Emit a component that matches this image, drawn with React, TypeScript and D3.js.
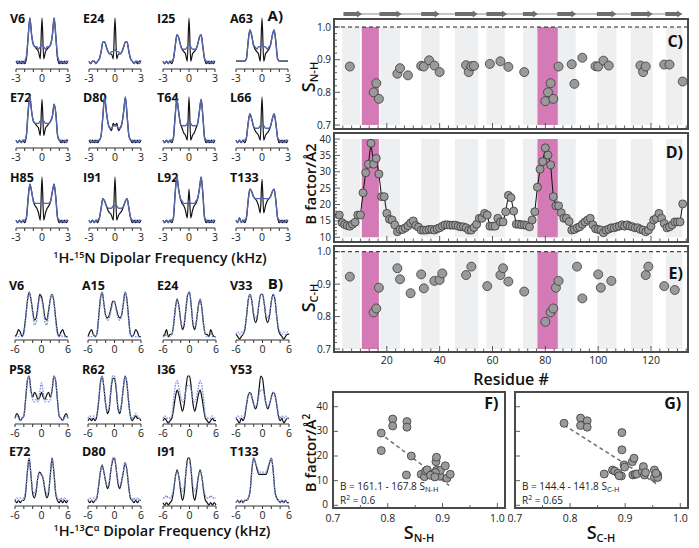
import React from "react";
import * as d3 from "d3";

const FONT = "'Open Sans', 'Liberation Sans', sans-serif";

// ---------- Panel A: 1H-15N dipolar spectra, 31 samples from -3 to 3 kHz, relative intensity (0-20)
const nhLabels = ["V6", "E24", "I25", "A63", "E72", "D80", "T64", "L66", "H85", "I91", "L92", "T133"];
const nhExp = [
  [2,1,2,1,2,1,3,12,20,13,9,8,7,6,3,20,3,6,7,8,9,13,20,12,3,1,2,1,2,1,2],
  [2,1,2,2,1,2,3,6,10,10,8,6,5,5,3,20,3,5,5,6,8,10,10,6,3,2,1,2,1,2,2],
  [2,1,2,1,2,1,3,8,13,12,9,7,6,5,2,20,2,5,6,7,9,12,13,8,3,1,2,1,2,1,2],
  [2,2,2,2,2,2,3,10,15,13,9,7,6,5,2,20,2,5,6,7,9,13,15,10,3,2,2,2,2,2,2],
  [2,1,2,1,2,1,4,14,20,14,10,9,8,7,4,19,4,7,8,9,10,12,17,13,4,2,1,2,1,2,2],
  [2,1,2,1,2,1,2,4,12,20,14,9,7,6,9,8,9,6,7,9,14,20,12,4,2,1,2,1,2,1,2],
  [2,1,2,1,2,1,3,12,19,14,9,7,5,4,2,20,2,4,5,7,9,14,19,12,3,1,2,1,2,1,2],
  [2,1,2,1,2,1,3,9,13,11,8,6,5,4,2,20,2,4,5,6,8,11,13,9,3,1,2,1,2,1,2],
  [2,1,2,1,2,1,3,11,17,14,10,8,7,5,2,20,2,5,7,8,10,14,17,11,3,1,2,1,2,1,2],
  [2,1,2,1,2,1,3,7,11,10,8,6,5,4,2,20,2,4,5,6,8,10,11,7,3,1,2,1,2,1,2],
  [2,1,2,1,2,1,3,13,20,15,11,9,8,6,3,15,3,6,8,9,11,15,20,13,3,1,2,1,2,1,2],
  [2,1,3,1,2,1,3,10,15,14,12,11,10,8,5,19,5,8,10,11,12,14,15,10,3,1,2,1,2,1,2],
];
const nhFit = [
  [2,2,1,2,1,2,4,12,20,13,9,8,8,7,8,9,8,7,8,8,9,13,20,12,4,2,1,2,1,2,2],
  [2,1,2,2,1,2,3,6,10,10,8,6,5,6,6,7,6,6,5,6,8,10,10,6,3,2,1,2,2,1,2],
  [2,1,2,1,2,2,3,8,13,12,9,7,7,7,8,9,8,7,7,7,9,12,13,8,3,2,1,2,1,2,2],
  [2,2,2,2,2,2,3,10,15,13,9,8,7,8,8,9,8,8,7,8,9,13,15,10,3,2,2,2,2,2,2],
  [2,1,2,1,2,2,4,14,20,14,10,9,9,9,10,10,10,9,9,9,10,12,17,13,4,2,2,1,2,1,2],
  [2,2,1,2,1,2,2,4,12,20,14,9,7,7,8,8,8,7,7,9,14,20,12,4,2,2,1,2,1,2,2],
  [2,1,2,1,2,2,3,12,19,14,9,8,8,8,9,10,9,8,8,8,9,14,19,12,3,2,1,2,1,2,2],
  [2,1,2,1,2,2,3,9,13,11,8,7,7,7,8,8,8,7,7,7,8,11,13,9,3,2,1,2,1,2,2],
  [2,1,2,1,2,2,3,11,17,14,10,9,9,9,9,10,9,9,9,9,10,14,17,11,3,2,1,2,1,2,2],
  [2,1,2,1,2,2,3,7,11,10,8,7,7,7,8,8,8,7,7,7,8,10,11,7,3,2,1,2,1,2,2],
  [2,1,2,1,2,2,3,13,20,15,11,10,9,9,9,10,9,9,9,10,11,15,20,13,3,2,1,2,1,2,2],
  [2,1,3,1,2,2,3,10,15,14,12,11,11,11,11,11,11,11,11,11,12,14,15,10,3,2,1,2,1,2,2],
];
const nhTicks = [-3, -2, -1, 0, 1, 2, 3];
const nhTickLabels = [-3, 0, 3];

// ---------- Panel B: 1H-13Ca dipolar spectra, 31 samples from -6 to 6 kHz
const chLabels = ["V6", "A15", "E24", "V33", "P58", "R62", "I36", "Y53", "E72", "D80", "I91", "T133"];
const chExp = [
  [1,2,4,3,1,3,9,16,20,17,12,8,9,14,19,18,14,9,8,12,17,19,16,9,3,1,3,4,2,1,1],
  [1,3,4,2,1,2,9,17,20,15,10,9,10,13,16,16,13,10,9,10,15,20,17,9,2,1,2,4,3,1,1],
  [1,2,4,1,2,2,6,13,17,14,8,4,6,13,19,20,14,6,4,8,14,17,13,6,2,2,1,4,2,1,1],
  [2,1,0,1,2,4,10,17,19,16,10,7,9,15,19,19,15,9,7,10,16,19,17,10,4,2,1,0,1,2,2],
  [2,4,3,1,2,3,10,18,20,14,11,13,12,10,11,13,11,10,12,13,11,14,20,18,10,3,2,1,3,4,2],
  [1,2,1,2,1,3,9,17,20,15,8,4,6,14,19,19,14,6,4,8,15,20,17,9,3,1,2,3,2,2,1],
  [1,2,1,0,1,2,6,11,14,12,8,5,8,15,20,20,15,8,5,8,12,14,11,6,2,1,0,1,2,1,1],
  [2,1,0,2,1,3,8,12,13,11,8,6,8,14,20,19,13,8,6,8,11,13,12,8,3,1,2,0,1,2,2],
  [2,1,2,1,2,2,5,14,20,13,5,3,6,12,14,13,11,6,3,5,13,20,14,5,2,1,2,1,2,1,2],
  [2,1,2,1,2,3,8,14,17,14,10,7,9,15,19,20,15,9,7,10,14,18,15,8,3,2,1,2,1,2,2],
  [1,0,1,0,1,2,6,12,15,12,6,2,5,14,20,20,14,5,2,6,12,15,12,6,2,1,0,1,0,1,0],
  [1,2,1,2,1,2,2,3,6,15,20,18,15,13,13,13,13,13,15,18,20,15,6,3,2,1,2,1,2,1,1],
];
const chFit = [
  [1,1,1,2,1,2,8,16,20,17,11,6,7,13,18,17,13,7,6,11,17,19,16,8,2,1,2,1,1,1,1],
  [1,1,1,2,1,2,8,17,20,15,10,8,9,12,15,16,12,9,8,10,15,20,17,8,2,1,2,1,1,1,1],
  [1,1,2,1,1,2,6,13,17,14,8,5,7,13,19,20,14,7,5,8,14,17,13,6,2,1,1,2,1,1,1],
  [2,3,2,3,2,5,10,17,19,16,11,9,10,15,19,19,15,10,9,11,16,19,17,10,5,3,2,3,2,3,2],
  [2,3,2,1,2,3,10,18,20,14,10,9,10,9,13,17,13,9,10,9,10,14,20,18,10,3,2,1,2,3,2],
  [2,3,2,3,2,3,9,17,20,15,8,5,7,15,20,20,15,7,5,8,15,20,17,9,3,2,3,4,3,2,2],
  [2,3,2,2,2,3,10,16,18,15,11,9,10,14,16,16,14,10,9,11,15,18,16,10,3,2,2,2,3,2,2],
  [2,3,2,3,2,4,8,12,13,11,8,7,8,12,14,14,12,8,7,8,11,13,12,8,4,2,3,2,3,2,2],
  [2,3,2,3,2,3,6,14,20,13,6,5,7,12,13,13,11,7,5,6,13,20,14,6,3,2,3,2,3,2,2],
  [2,3,2,3,2,3,8,14,17,14,10,8,10,15,20,20,15,10,8,10,14,18,15,8,3,2,3,2,3,2,2],
  [3,3,4,3,3,4,7,12,14,12,8,6,8,14,18,18,14,8,6,8,12,14,12,7,4,3,3,4,3,3,3],
  [1,2,1,2,1,2,2,3,6,15,20,18,16,14,14,14,14,14,16,18,20,15,6,3,2,1,2,1,2,1,1],
];
const chTicks = [-6, -4, -2, 0, 2, 4, 6];
const chTickLabels = [-6, 0, 6];

// ---------- Secondary structure / highlighted regions (residue numbers)
const strands = [[3.6,10.6],[17.2,25.6],[33,40],[45.8,54.4],[57.7,65.5],[71.5,77.2],[84.5,91.7],[99.5,106.9],[112.4,120.6],[125.4,131.8]];
const greyBands = [[3.1,9.9],[17.5,25],[33,40],[45.8,54.6],[57.7,64.6],[71.5,77],[84.5,91.5],[99.7,106.9],[112.4,120.6],[125.6,131.9]];
const pinkBands = [[10.5,17],[77,84.7]];

// ---------- Panel C: S(N-H) order parameters
const cRes = [6,15,16,17,24,25,28,33,34,36,38,40,50,51,52,53,59,63,66,72,80,81,82,83,85,90,91,94,99,100,102,104,116,117,118,125,127,132];
const cVal = [0.879,0.800,0.828,0.780,0.857,0.874,0.852,0.881,0.879,0.898,0.882,0.862,0.883,0.862,0.880,0.881,0.887,0.895,0.878,0.862,0.773,0.800,0.828,0.780,0.879,0.886,0.826,0.906,0.880,0.879,0.897,0.882,0.882,0.862,0.879,0.885,0.885,0.833];

// ---------- Panel D: B factor per residue (residues 2..132)
const dStart = 2;
const dVal = [16.8,14.5,13.9,13.6,13.4,14.0,14.6,16.8,16.8,23.6,29.7,32.3,38.7,32.3,34.1,29.3,22.4,22.4,17.3,15.5,15.3,13.8,11.7,12.4,12.4,12.9,13.5,14.4,15.0,13.6,13.1,12.2,12.2,12.2,12.4,12.4,12.2,12.6,12.9,13.4,13.8,13.8,13.7,13.7,13.7,13.4,13.2,13.2,12.9,12.2,12.2,13.0,14.0,15.8,15.8,17.3,16.8,13.4,13.4,13.4,15.8,14.7,14.7,17.8,22.8,22.1,18.0,14.0,14.0,13.8,13.8,13.6,13.2,15.3,17.8,25.3,30.8,33.1,37.3,35.1,32.1,22.4,19.6,19.6,17.5,15.8,15.8,14.8,12.2,12.4,12.9,13.2,14.0,14.7,15.3,15.8,13.8,12.6,12.4,12.2,11.4,12.2,12.5,12.9,12.9,13.2,13.4,13.8,13.4,13.8,13.4,13.2,12.9,12.9,12.4,12.2,11.7,12.2,13.4,15.3,15.8,17.3,15.8,14.2,12.9,13.2,13.8,14.7,14.7,14.7,20.2];

// ---------- Panel E: S(C-H) order parameters
const eRes = [6,15,16,17,24,25,29,33,34,38,40,41,50,52,58,63,64,66,72,80,82,83,84,85,92,94,100,101,105,118,119,125,129];
const eVal = [0.923,0.813,0.825,0.889,0.949,0.915,0.872,0.930,0.887,0.910,0.913,0.933,0.928,0.954,0.894,0.928,0.949,0.908,0.877,0.784,0.813,0.825,0.889,0.910,0.954,0.856,0.930,0.889,0.910,0.928,0.954,0.894,0.882];

// ---------- Panels F, G: correlations with B factor
const fS = [0.788,0.788,0.809,0.809,0.835,0.835,0.834,0.843,0.861,0.867,0.869,0.872,0.881,0.888,0.889,0.889,0.892,0.895,0.896,0.905,0.908,0.914,0.885,0.883,0.887,0.878,0.886];
const fB = [29.3,22.2,35,32.2,34,31.7,12.3,20,12.6,11.6,13.9,14.4,12.6,17.7,19.5,14.2,12.3,11.8,14.2,16,11,12.6,11.8,12.8,13.3,12.2,11.5];
const fFit = { a: 161.1, b: 167.8, from: 0.785, to: 0.912 };
const gS = [0.789,0.819,0.819,0.831,0.831,0.862,0.877,0.881,0.887,0.893,0.894,0.894,0.898,0.899,0.913,0.916,0.914,0.918,0.921,0.931,0.933,0.935,0.937,0.953,0.953,0.959,0.959,0.956,0.889];
const gB = [33.3,35.4,32.4,34.3,31.7,12.7,14.3,13.9,13,11.9,29.5,22.5,16.4,15.5,17.7,19.1,12.3,12.6,12.7,13.7,15.7,12.3,13.3,14.3,11.3,12.3,11.3,13,12];
const gFit = { a: 144.4, b: 141.8, from: 0.789, to: 0.96 };

const resTicks = [20, 40, 60, 80, 100, 120];

function Spectrum(props: any) {
  const { x0, w, axisY, top, base, dom, exp, fit, label, labelY, ticks, tickLabels, fitDash, fitColor, fitWidth } = props;
  const n = exp.length;
  const grid = d3.range(n).map((i) => dom[0] + ((dom[1] - dom[0]) * i) / (n - 1));
  const x = d3.scaleLinear().domain(dom).range([x0, x0 + w]);
  const y = d3.scaleLinear().domain([0, 20]).range([base, top]);
  const line = d3
    .line<number>()
    .x((_, i) => x(grid[i]))
    .y((d) => y(d))
    .curve(d3.curveMonotoneX);
  return (
    <g>
      <text x={x0 - 6} y={labelY} fontSize={12.5} fontWeight={700} fill="#111">{label}</text>
      <path d={line(exp) || ""} fill="none" stroke="#111" strokeWidth={1.2} />
      <path d={line(fit) || ""} fill="none" stroke={fitColor} strokeWidth={fitWidth} strokeDasharray={fitDash} />
      <line x1={x0} x2={x0 + w} y1={axisY} y2={axisY} stroke="#333" strokeWidth={1} />
      {ticks.map((t: number) => (
        <line key={t} x1={x(t)} x2={x(t)} y1={axisY} y2={axisY + 3} stroke="#333" strokeWidth={1} />
      ))}
      {tickLabels.map((t: number) => (
        <text key={t} x={x(t)} y={axisY + 13} fontSize={10.5} textAnchor="middle" fill="#222">{t}</text>
      ))}
    </g>
  );
}

function Arrow({ x1, x2, y }: any) {
  const h = 2;
  const hh = 3.5;
  const hl = 5;
  const d = `M${x1},${y - h}L${x2 - hl},${y - h}L${x2 - hl},${y - hh}L${x2},${y}L${x2 - hl},${y + hh}L${x2 - hl},${y + h}L${x1},${y + h}Z`;
  return <path d={d} fill="#6e6e6e" />;
}

function ResiduePanel(props: any) {
  const { x, top, bottom, yDom, yTop, yBot, minorStep, majorStep, labels, children, letter, letterY } = props;
  const y = d3.scaleLinear().domain(yDom).range([yBot, yTop]);
  const minor = d3.range(yDom[0], yDom[1] + 1e-9, minorStep);
  const xt = d3.range(0, 134, 20 / 6);
  return (
    <g>
      {greyBands.map((b, i) => (
        <rect key={"g" + i} x={x(b[0])} width={x(b[1]) - x(b[0])} y={yTop} height={yBot - yTop} fill="#eeeff1" />
      ))}
      {pinkBands.map((b, i) => (
        <rect key={"p" + i} x={x(b[0])} width={x(b[1]) - x(b[0])} y={yTop} height={yBot - yTop} fill="#d47ab6" />
      ))}
      {children(y)}
      {minor.map((v: number, i: number) => {
        const major = Math.abs(v / majorStep - Math.round(v / majorStep)) < 1e-6;
        return <line key={"yt" + i} x1={334} x2={334 + (major ? 6 : 3)} y1={y(v)} y2={y(v)} stroke="#333" strokeWidth={0.8} />;
      })}
      {xt.map((r, i) => {
        const major = Math.abs(r / 20 - Math.round(r / 20)) < 1e-6;
        return <line key={"xt" + i} x1={x(r)} x2={x(r)} y1={bottom} y2={bottom - (major ? 6 : 3.5)} stroke="#333" strokeWidth={0.8} />;
      })}
      {labels.map((v: number) => (
        <text key={"yl" + v} x={331} y={y(v) + 3.5} fontSize={10} textAnchor="end" fill="#222">{props.fmt(v)}</text>
      ))}
      <rect x={334} y={top} width={688 - 334} height={bottom - top} fill="none" stroke="#4a4a4a" strokeWidth={2} />
      <text x={683} y={letterY} fontSize={16} fontWeight={700} textAnchor="end" fill="#111">{letter}</text>
    </g>
  );
}

function Scatter(props: any) {
  const { x0, x1, top, bottom, S, B, fit, letter, eq, sub, r2, showYLabels } = props;
  const x = d3.scaleLinear().domain([0.7, 1.014]).range([x0, x1]);
  const y = d3.scaleLinear().domain([0, 45]).range([505.3, 394.4]);
  const fx = [fit.from, fit.to];
  return (
    <g>
      <line x1={x(fx[0])} x2={x(fx[1])} y1={y(fit.a - fit.b * fx[0])} y2={y(fit.a - fit.b * fx[1])} stroke="#777" strokeWidth={1.6} strokeDasharray="4,3" />
      {S.map((s: number, i: number) => (
        <circle key={i} cx={x(s)} cy={y(B[i])} r={4} fill="#9a9a9a" stroke="#3a3a3a" strokeWidth={0.8} />
      ))}
      {[0, 10, 20, 30, 40].map((v) => (
        <line key={"y" + v} x1={x0} x2={x0 + 5} y1={y(v)} y2={y(v)} stroke="#333" strokeWidth={0.8} />
      ))}
      {showYLabels && [0, 10, 20, 30, 40].map((v) => (
        <text key={"yl" + v} x={x0 - 5} y={y(v) + 3} fontSize={10} textAnchor="end" fill="#222">{v}</text>
      ))}
      {[0.7, 0.75, 0.8, 0.85, 0.9, 0.95, 1.0].map((v, i) => (
        <line key={"x" + i} x1={x(v)} x2={x(v)} y1={bottom} y2={bottom - (i % 2 === 0 ? 5 : 3)} stroke="#333" strokeWidth={0.8} />
      ))}
      {[0.7, 0.8, 0.9, 1.0].map((v) => (
        <text key={"xl" + v} x={x(v)} y={522} fontSize={10.5} textAnchor="middle" fill="#222">{v.toFixed(1)}</text>
      ))}
      <text x={x0 + 7} y={490} fontSize={10} fill="#222">{eq}<tspan fontSize={7.5} dy={2}>{sub}</tspan></text>
      <text x={x0 + 7} y={504} fontSize={10} fill="#222">R<tspan fontSize={7} dy={-4}>2</tspan><tspan dy={4}>{" = " + r2}</tspan></text>
      <rect x={x0} y={top} width={x1 - x0} height={bottom - top} fill="none" stroke="#4a4a4a" strokeWidth={2} />
      <text x={x(1.0) + 1} y={409} fontSize={16} fontWeight={700} textAnchor="end" fill="#111">{letter}</text>
    </g>
  );
}

export default function App() {
  const nhCols = [16, 89, 163, 236];
  const nhRows = [69, 148, 228];
  const chCols = [15, 88, 163, 236];
  const chRows = [340, 424, 506];
  const rx = d3.scaleLinear().domain([0, 134]).range([334, 688]);

  return (
    <svg width={699} height={548} style={{ position: "absolute", left: 0, top: 0, fontFamily: FONT, background: "#fff" }}>
      <rect width={699} height={548} fill="#fff" />
      {/* Panel A */}
      {nhLabels.map((lab, k) => {
        const c = k % 4;
        const r = Math.floor(k / 4);
        return (
          <Spectrum key={"nh" + k} x0={nhCols[c]} w={52} axisY={nhRows[r]} top={nhRows[r] - 51} base={nhRows[r] - 3}
            dom={[-3, 3]} exp={nhExp[k]} fit={nhFit[k]} label={lab} labelY={nhRows[r] - 46}
            ticks={nhTicks} tickLabels={nhTickLabels} fitColor="#5566b0" fitWidth={1.4} fitDash={null} />
        );
      })}
      <text x={283} y={21} fontSize={15} fontWeight={700} textAnchor="end" fill="#111">A)</text>
      <text x={160} y={263} fontSize={14.5} fontWeight={600} textAnchor="middle" fill="#111">
        <tspan fontSize={9} dy={-5}>1</tspan><tspan dy={5}>H-</tspan><tspan fontSize={9} dy={-5}>15</tspan><tspan dy={5}>N Dipolar Frequency (kHz)</tspan>
      </text>

      {/* Panel B */}
      {chLabels.map((lab, k) => {
        const c = k % 4;
        const r = Math.floor(k / 4);
        return (
          <Spectrum key={"ch" + k} x0={chCols[c]} w={53} axisY={chRows[r]} top={chRows[r] - 48} base={chRows[r] - 1}
            dom={[-6, 6]} exp={chExp[k]} fit={chFit[k]} label={lab} labelY={chRows[r] - 50}
            ticks={chTicks} tickLabels={chTickLabels} fitColor="#7d90dc" fitWidth={1.4} fitDash="1.6,1.2" />
        );
      })}
      <text x={283} y={289} fontSize={15} fontWeight={700} textAnchor="end" fill="#111">B)</text>
      <text x={162} y={536} fontSize={14.5} fontWeight={600} textAnchor="middle" fill="#111">
        <tspan fontSize={9} dy={-5}>1</tspan><tspan dy={5}>H-</tspan><tspan fontSize={9} dy={-5}>13</tspan><tspan dy={5}>C</tspan><tspan fontSize={9} dy={-5}>α</tspan><tspan dy={5}> Dipolar Frequency (kHz)</tspan>
      </text>

      {/* Secondary structure arrows */}
      <line x1={rx(3.6)} x2={rx(131.8)} y1={14} y2={14} stroke="#8a8a8a" strokeWidth={1} />
      {strands.map((s, i) => (
        <Arrow key={i} x1={rx(s[0])} x2={rx(s[1])} y={14} />
      ))}

      {/* Panel C */}
      <ResiduePanel x={rx} top={19} bottom={129} yDom={[0.7, 1.0]} yTop={27} yBot={125} minorStep={0.02} majorStep={0.1}
        labels={[0.7, 0.8, 0.9, 1.0]} fmt={(v: number) => v.toFixed(1)} letter="C)" letterY={47}>
        {(y: any) => (
          <g>
            <line x1={334} x2={688} y1={y(1.0)} y2={y(1.0)} stroke="#222" strokeWidth={1} strokeDasharray="4,3" />
            {cRes.map((r, i) => (
              <circle key={i} cx={rx(r)} cy={y(cVal[i])} r={4.5} fill="#9a9a9a" stroke="#3a3a3a" strokeWidth={0.8} />
            ))}
          </g>
        )}
      </ResiduePanel>
      <text transform="translate(315,77) rotate(-90)" fontSize={18} fontWeight={600} textAnchor="middle" fill="#111">
        S<tspan fontSize={11} dy={3}>N-H</tspan>
      </text>

      {/* Panel D */}
      <ResiduePanel x={rx} top={133} bottom={242} yDom={[10, 40]} yTop={139} yBot={237.3} minorStep={1} majorStep={5}
        labels={[10, 15, 20, 25, 30, 35, 40]} fmt={(v: number) => String(v)} letter="D)" letterY={158}>
        {(y: any) => {
          const ln = d3.line<number>().x((_, i) => rx(dStart + i)).y((d) => y(d));
          return (
            <g>
              <path d={ln(dVal) || ""} fill="none" stroke="#111" strokeWidth={1} />
              {dVal.map((v, i) => (
                <circle key={i} cx={rx(dStart + i)} cy={y(v)} r={4} fill="#9a9a9a" stroke="#3a3a3a" strokeWidth={0.8} />
              ))}
            </g>
          );
        }}
      </ResiduePanel>
      <text transform="translate(316,184) rotate(-90)" fontSize={15} fontWeight={600} textAnchor="middle" fill="#111">
        B factor/Å2
      </text>

      {/* Panel E */}
      <ResiduePanel x={rx} top={246} bottom={352} yDom={[0.7, 1.0]} yTop={251.7} yBot={349} minorStep={0.02} majorStep={0.1}
        labels={[0.7, 0.8, 0.9, 1.0]} fmt={(v: number) => v.toFixed(1)} letter="E)" letterY={279}>
        {(y: any) => (
          <g>
            <line x1={334} x2={688} y1={y(1.0)} y2={y(1.0)} stroke="#222" strokeWidth={1} strokeDasharray="4,3" />
            {eRes.map((r, i) => (
              <circle key={i} cx={rx(r)} cy={y(eVal[i])} r={4.5} fill="#9a9a9a" stroke="#3a3a3a" strokeWidth={0.8} />
            ))}
          </g>
        )}
      </ResiduePanel>
      <text transform="translate(315,298) rotate(-90)" fontSize={18} fontWeight={600} textAnchor="middle" fill="#111">
        S<tspan fontSize={11} dy={3}>C-H</tspan>
      </text>
      {resTicks.map((t) => (
        <text key={t} x={rx(t)} y={364} fontSize={10.5} textAnchor="middle" fill="#222">{t}</text>
      ))}
      <text x={511} y={385} fontSize={16} fontWeight={600} textAnchor="middle" fill="#111">Residue #</text>

      {/* Panels F and G */}
      <Scatter x0={333} x1={505} top={392} bottom={508} S={fS} B={fB} fit={fFit} letter="F)"
        eq="B = 161.1 - 167.8 S" sub="N-H" r2="0.6" showYLabels={true} />
      <Scatter x0={515} x1={688} top={392} bottom={508} S={gS} B={gB} fit={gFit} letter="G)"
        eq="B = 144.4 - 141.8 S" sub="C-H" r2="0.65" showYLabels={false} />
      <text transform="translate(316,453) rotate(-90)" fontSize={15} fontWeight={600} textAnchor="middle" fill="#111">
        B factor/Å<tspan fontSize={10} dy={-6}>2</tspan>
      </text>
      <text x={419} y={539} fontSize={18} fontWeight={600} textAnchor="middle" fill="#111">
        S<tspan fontSize={11} dy={3}>N-H</tspan>
      </text>
      <text x={601} y={539} fontSize={18} fontWeight={600} textAnchor="middle" fill="#111">
        S<tspan fontSize={11} dy={3}>C-H</tspan>
      </text>
    </svg>
  );
}
